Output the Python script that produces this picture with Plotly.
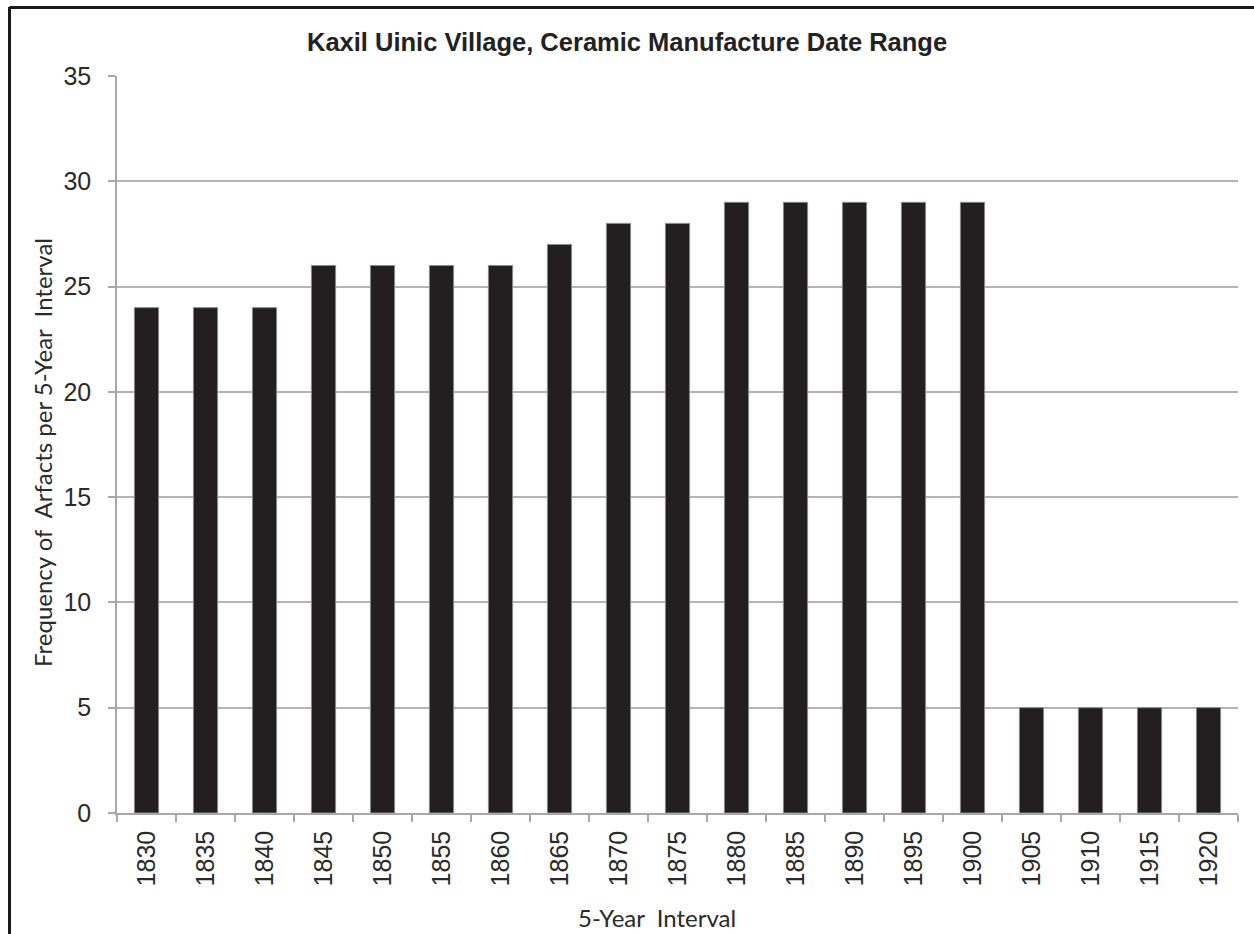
import plotly.graph_objects as go

# Five-year intervals and artifact counts per interval
intervals = ["1830", "1835", "1840", "1845", "1850", "1855", "1860", "1865", "1870", "1875",
             "1880", "1885", "1890", "1895", "1900", "1905", "1910", "1915", "1920"]
frequency = [24, 24, 24, 26, 26, 26, 26, 27, 28, 28,
             29, 29, 29, 29, 29, 5, 5, 5, 5]
y_ticks = [0, 5, 10, 15, 20, 25, 30, 35]

NBSP = "\u00a0"
title_text = "Kaxil Uinic Village, Ceramic Manufacture Date Range"
x_title = "5-Year " + NBSP + "Interval"
y_title = "Frequency of " + NBSP + "Arfacts per 5-Year " + NBSP + "Interval"

W, H = 1254, 934
L, R, T, B = 117, 16, 76, 121
PW, PH = W - L - R, H - T - B

fig = go.Figure(
    go.Bar(
        x=intervals,
        y=frequency,
        marker=dict(color="#231f20", line=dict(color="#8a8a8a", width=1)),
    )
)

axis_gray = "#a8a8a8"
sans = "Liberation Sans"
tick_font = dict(family=sans, size=25, color="#2a2a2a")
label_font = dict(family="Lato", size=24, color="#2a2a2a")

fig.update_layout(
    width=W,
    height=H,
    margin=dict(l=L, r=R, t=T, b=B),
    paper_bgcolor="white",
    plot_bgcolor="white",
    bargap=0.59,
    showlegend=False,
    xaxis=dict(
        type="category",
        tickson="boundaries",
        ticks="outside",
        ticklen=7,
        tickcolor=axis_gray,
        tickwidth=1.5,
        showline=True,
        linecolor=axis_gray,
        linewidth=1.5,
        showgrid=False,
        tickangle=-90,
        tickfont=tick_font,
        ticklabelstandoff=6,
    ),
    yaxis=dict(
        range=[0, 35],
        tickvals=y_ticks,
        ticks="outside",
        ticklen=7,
        tickcolor=axis_gray,
        tickwidth=1.5,
        showline=True,
        linecolor=axis_gray,
        linewidth=1.5,
        showgrid=True,
        gridcolor="#b4b4b4",
        gridwidth=1.5,
        zeroline=False,
        tickfont=tick_font,
        ticklabelstandoff=12,
    ),
    annotations=[
        dict(text="<b>" + title_text + "</b>", xref="paper", yref="paper",
             x=(627 - L) / PW, y=1 + (T - 42) / PH,
             xanchor="center", yanchor="middle", showarrow=False,
             font=dict(family=sans, size=25.5, color="#222")),
        dict(text=x_title, xref="paper", yref="paper",
             x=(657 - L) / PW, y=-(918 - (H - B)) / PH,
             xanchor="center", yanchor="middle", showarrow=False,
             font=label_font),
        dict(text=y_title, xref="paper", yref="paper", textangle=-90,
             x=-(L - 42) / PW, y=(H - B - 453) / PH,
             xanchor="center", yanchor="middle", showarrow=False,
             font=label_font),
    ],
    shapes=[
        # outer frame (left and top edges)
        dict(type="line", xref="paper", yref="paper",
             x0=-(L - 9.5) / PW, x1=-(L - 9.5) / PW,
             y0=1 + (T - 7) / PH, y1=-(B + 5) / PH,
             line=dict(color="#1a1a1a", width=3)),
        dict(type="line", xref="paper", yref="paper",
             x0=-(L - 9.5) / PW, x1=1 + (R + 5) / PW,
             y0=1 + (T - 7.5) / PH, y1=1 + (T - 7.5) / PH,
             line=dict(color="#1a1a1a", width=3)),
    ],
)

fig.write_html("out.html")
